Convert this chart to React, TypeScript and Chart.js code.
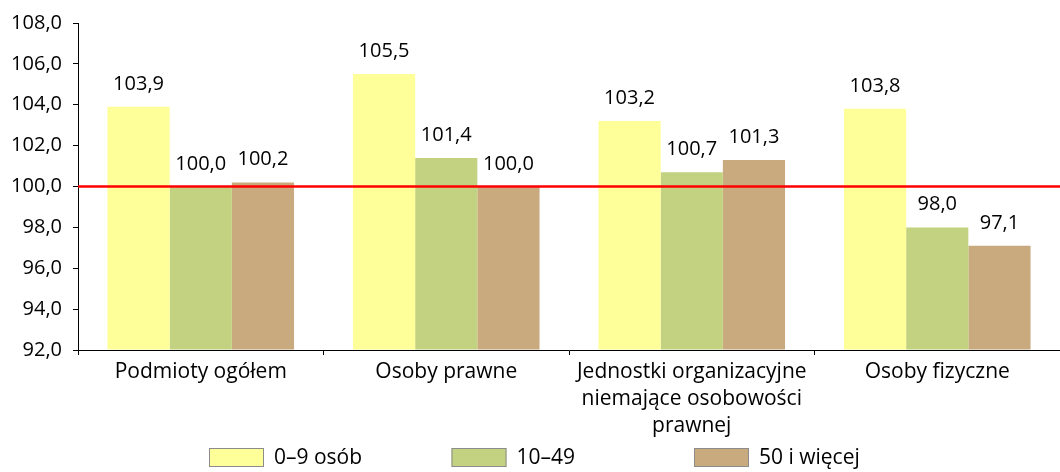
import React, { useEffect, useRef } from "react";
import { Chart, registerables } from "chart.js";

Chart.register(...registerables);

const categories: (string | string[])[] = [
  "Podmioty ogółem",
  "Osoby prawne",
  ["Jednostki organizacyjne", "niemające osobowości", "prawnej"],
  "Osoby fizyczne",
];
const seriesNames = ["0–9 osób", "10–49", "50 i więcej"];
const small = [103.9, 105.5, 103.2, 103.8];
const medium = [100.0, 101.4, 100.7, 98.0];
const large = [100.2, 100.0, 101.3, 97.1];
const colors = ["#FFFF99", "#C2D280", "#C9A97E"];
const referenceValue = 100;

const FONT = "'Open Sans', sans-serif";
const fmt = (v: number) => v.toFixed(1).replace(".", ",");

const refLinePlugin = {
  id: "refLine",
  afterDatasetsDraw(chart: any) {
    const { ctx, chartArea, scales } = chart;
    const y = scales.y.getPixelForValue(referenceValue);
    ctx.save();
    ctx.strokeStyle = "#FF0000";
    ctx.lineWidth = 2.5;
    ctx.beginPath();
    ctx.moveTo(chartArea.left, y);
    ctx.lineTo(chartArea.right, y);
    ctx.stroke();
    ctx.restore();
  },
};

const labelPlugin = {
  id: "valueLabels",
  afterDatasetsDraw(chart: any) {
    const { ctx } = chart;
    ctx.save();
    ctx.font = `20px ${FONT}`;
    ctx.fillStyle = "#000";
    ctx.textAlign = "center";
    ctx.textBaseline = "alphabetic";
    chart.data.datasets.forEach((ds: any, i: number) => {
      const meta = chart.getDatasetMeta(i);
      meta.data.forEach((el: any, j: number) => {
        ctx.fillText(fmt(ds.data[j]), el.x, el.y - 17);
      });
    });
    ctx.restore();
  },
};

const legendPlugin = {
  id: "customLegend",
  afterDraw(chart: any) {
    const { ctx, width } = chart;
    const slot = 242.5;
    const start = width / 2 - 321;
    const boxW = 55;
    const boxH = 19;
    const top = 448;
    ctx.save();
    ctx.font = `21px ${FONT}`;
    ctx.textBaseline = "middle";
    ctx.textAlign = "left";
    seriesNames.forEach((name, i) => {
      const x = start + i * slot;
      ctx.fillStyle = colors[i];
      ctx.fillRect(x, top, boxW, boxH);
      ctx.strokeStyle = "#8C8C8C";
      ctx.lineWidth = 1;
      ctx.strokeRect(x + 0.5, top + 0.5, boxW - 1, boxH - 1);
      ctx.fillStyle = "#000";
      ctx.fillText(name, x + boxW + 10, top + boxH / 2 + 1);
    });
    ctx.restore();
  },
};

export default function App() {
  const ref = useRef<HTMLCanvasElement | null>(null);
  useEffect(() => {
    document.body.style.margin = "0";
    if (!ref.current) return;
    const chart = new Chart(ref.current, {
      type: "bar",
      data: {
        labels: categories as any,
        datasets: [small, medium, large].map((d, i) => ({
          label: seriesNames[i],
          data: d,
          backgroundColor: colors[i],
          borderWidth: 0,
          categoryPercentage: 0.76,
          barPercentage: 1.0,
          base: 92,
        })),
      },
      options: {
        animation: false,
        responsive: false,
        maintainAspectRatio: false,
        layout: { padding: { top: 20, left: 0, right: 0, bottom: 0 } },
        plugins: {
          legend: { display: false },
          tooltip: { enabled: false },
        },
        scales: {
          x: {
            offset: true,
            grid: {
              offset: true,
              drawOnChartArea: false,
              drawTicks: true,
              tickLength: 5,
              color: "#000",
            },
            border: { display: true, color: "#000", width: 1 },
            ticks: {
              color: "#000",
              font: { family: FONT, size: 21, lineHeight: 1.3 },
              padding: 3,
              maxRotation: 0,
              autoSkip: false,
            },
            afterFit(scale: any) {
              scale.height = 122;
            },
          },
          y: {
            min: 92,
            max: 108,
            grid: {
              drawOnChartArea: false,
              drawTicks: true,
              tickLength: 5,
              color: "#000",
            },
            border: { display: true, color: "#000", width: 1 },
            ticks: {
              stepSize: 2,
              color: "#000",
              font: { family: FONT, size: 20 },
              padding: 11,
              callback: (v: any) => fmt(Number(v)),
            },
            afterFit(scale: any) {
              scale.width = 78;
            },
          },
        },
      },
      plugins: [refLinePlugin, labelPlugin, legendPlugin],
    });
    return () => chart.destroy();
  }, []);
  return <canvas ref={ref} width={1060} height={472} style={{ display: "block" }} />;
}
